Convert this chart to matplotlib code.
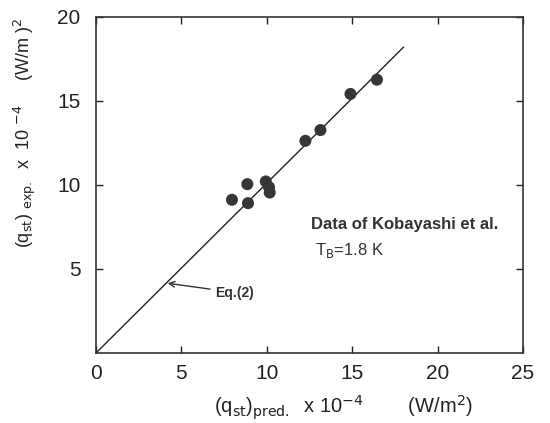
import matplotlib
matplotlib.use('Agg')
import matplotlib.pyplot as plt

plt.rcParams['font.family'] = ['Liberation Sans', 'DejaVu Sans']

# data (x 10^-4 W/m^2)
q_pred = [7.96, 8.86, 8.90, 9.94, 10.13, 10.17, 12.26, 13.14, 14.90, 16.45]
q_exp = [9.12, 10.05, 8.92, 10.21, 9.87, 9.55, 12.63, 13.27, 15.42, 16.27]

# Eq.(2) line end points
eq_x = [0, 18.0]
eq_y = [0, 18.2]

xticks = [0, 5, 10, 15, 20, 25]
yticks = [5, 10, 15, 20]

fig = plt.figure(figsize=(5.5, 4.23), dpi=100)
ax = fig.add_axes([96 / 550, 1 - 353 / 423, (523 - 96) / 550, (353 - 17) / 423])

ax.plot(eq_x, eq_y, color='#222222', lw=1.0)
ax.scatter(q_pred, q_exp, s=75, color='#363636', zorder=3, edgecolors='none')

ax.set_xlim(0, 25)
ax.set_ylim(0, 20)
ax.set_xticks(xticks)
ax.set_yticks(yticks)
ax.tick_params(direction='in', top=True, right=True, length=5, width=1,
               labelsize=15, colors='#222222')
ax.tick_params(axis='x', pad=8)
ax.tick_params(axis='y', pad=11)
for s in ax.spines.values():
    s.set_linewidth(1.2)
    s.set_color('#333333')

ax.set_xlabel(r'(q$_{\mathrm{st}}$)$_{\mathrm{pred.}}$  x 10$^{-4}$        (W/m$^{2}$)',
              fontsize=14.5, color='#222222')
ax.xaxis.set_label_coords(0.58, -0.12)
ax.set_ylabel(r'(q$_{\mathrm{st}}$) $_{\mathrm{exp.}}$  x  10 $^{-4}$     (W/m )$^{2}$',
              fontsize=13, color='#222222')
ax.yaxis.set_label_coords(-0.135, 0.655)

ax.annotate('Eq.(2)', xy=(4.2, 4.15), xytext=(7.0, 3.6), fontsize=10,
            fontweight='bold', color='#333333', va='center', ha='left',
            arrowprops=dict(arrowstyle='->', color='#333333', lw=1.0,
                            shrinkA=2, shrinkB=0))

ax.text(12.6, 7.65, 'Data of Kobayashi et al.', fontsize=12, fontweight='bold',
        color='#333333', va='center')
ax.text(12.8, 6.1, r'T$_{\mathrm{B}}$=1.8 K', fontsize=12, color='#333333',
        va='center')

fig.savefig('out.png', dpi=100)
